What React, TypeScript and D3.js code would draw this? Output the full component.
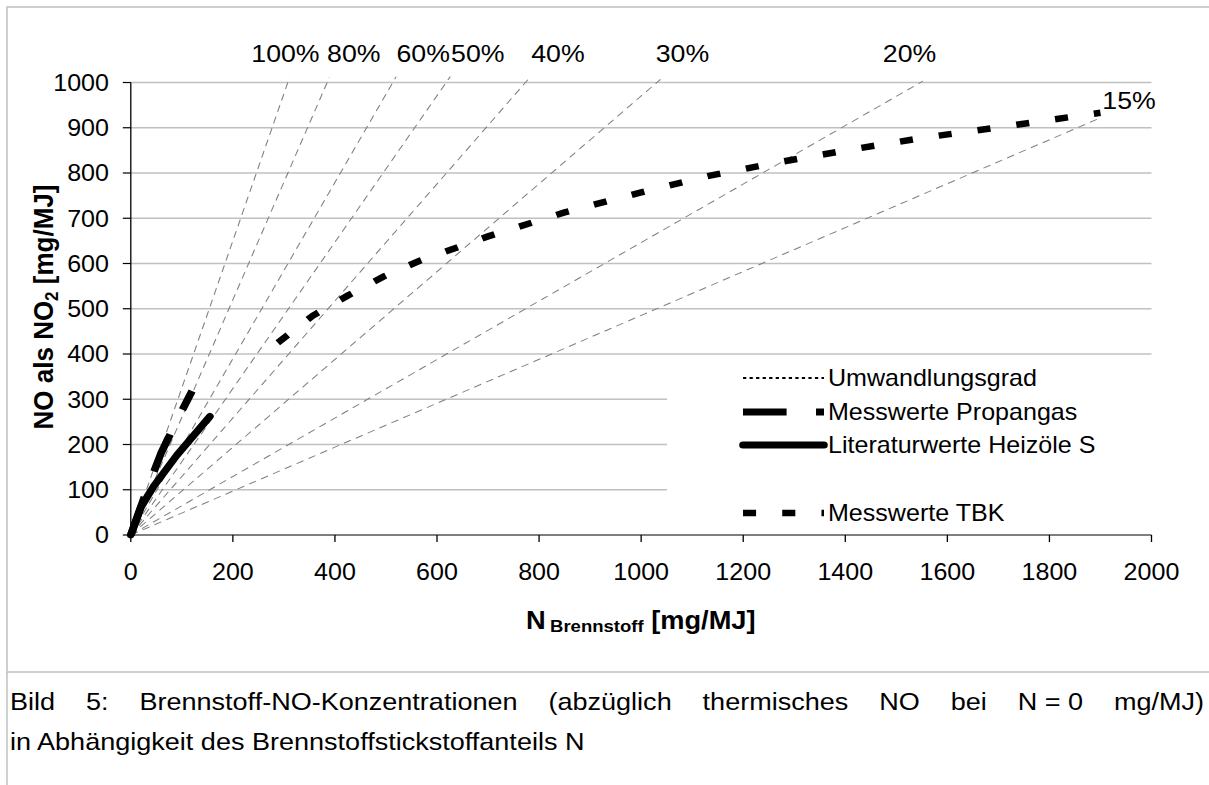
import { useEffect, useRef } from "react";
import * as d3 from "d3";

const W = 1209;
const H = 785;
// the reference picture is a little wider than it is tall, so the chart is stretched in x
const SX = 1.09;
const sx = (px: number) => px / SX;
const FONT = "Arial, 'Liberation Sans', sans-serif";

const PLOT = { left: 130.8, right: 1151.5, top: 82.5, bottom: 535 };

const xTicks = [0, 200, 400, 600, 800, 1000, 1200, 1400, 1600, 1800, 2000];
const yTicks = [0, 100, 200, 300, 400, 500, 600, 700, 800, 900, 1000];

// Umwandlungsgrad: reference lines from the origin
const umwLabels = ["100%", "80%", "60%", "50%", "40%", "30%", "20%", "15%"];
const umwEndN = [311, 389, 520, 626, 781, 1038, 1552, 1896];
const umwEndY = [1011, 1011, 1013, 1013, 1010, 1007, 1003, 920];
const umwLabelN = [303, 437, 573, 680, 837, 1081, 1526, 1956];
const umwLabelY = [1046, 1046, 1046, 1046, 1046, 1046, 1046, 941];

// Messwerte Propangas
const propanN = [0, 30, 60, 90, 120];
const propanY = [0, 95, 183, 252, 318];

// Literaturwerte Heizöle S
const heizN = [0, 20, 45, 90, 155];
const heizY = [0, 62, 108, 176, 262];

// Messwerte TBK
const tbkN = [288, 357, 425, 495, 566, 700, 850, 1000, 1130, 1271, 1412, 1554, 1695, 1836, 1900];
const tbkY = [425, 485, 529, 571, 606, 660, 713, 757, 793, 824, 852, 878, 900, 923, 933];

const legendLabels = ["Umwandlungsgrad", "Messwerte Propangas", "Literaturwerte Heizöle S", "Messwerte TBK"];
const legendRows = [378, 412, 445, 513];

const captionLine1 = "Bild 5: Brennstoff-NO-Konzentrationen (abzüglich thermisches NO bei N\u00a0=\u00a00 mg/MJ)";
const captionLine2 = "in Abhängigkeit des Brennstoffstickstoffanteils N";

const zip = (a: number[], b: number[]) => a.map((v, i) => [v, b[i]] as [number, number]);

export default function App() {
  const captionRef = useRef<SVGGElement>(null);

  const x = d3.scaleLinear().domain([0, 2000]).range([sx(PLOT.left), sx(PLOT.right)]);
  const y = d3.scaleLinear().domain([0, 1000]).range([PLOT.bottom, PLOT.top]);
  const line = d3
    .line<[number, number]>()
    .x((d) => x(d[0]))
    .y((d) => y(d[1]));

  useEffect(() => {
    // justify the first caption line word by word
    const g = d3.select(captionRef.current);
    g.selectAll("*").remove();
    const words = captionLine1.split(" ");
    const nodes = words.map((w) =>
      g
        .append("text")
        .attr("y", 710)
        .attr("font-size", 24.8)
        .attr("font-family", FONT)
        .attr("fill", "#000")
        .text(w)
    );
    const widths = nodes.map((n) => (n.node() as SVGTextElement).getComputedTextLength());
    const x0 = sx(10);
    const x1 = sx(1204);
    const gap = (x1 - x0 - d3.sum(widths)) / (words.length - 1);
    let cx = x0;
    nodes.forEach((n, i) => {
      n.attr("x", cx);
      cx += widths[i] + gap;
    });
    g.append("text")
      .attr("x", x0)
      .attr("y", 750)
      .attr("font-size", 24.8)
      .attr("font-family", FONT)
      .attr("fill", "#000")
      .text(captionLine2);
  }, []);

  const gridColor = "#c0c0c0";
  const legX0 = sx(743);
  const legX1 = sx(824);

  return (
    <svg width={W} height={H} style={{ position: "absolute", left: 0, top: 0, background: "#fff" }}>
      <rect x={7} y={7} width={W + 10} height={665} fill="#fff" stroke={gridColor} strokeWidth={1.5} />
      <line x1={7} x2={7} y1={672} y2={H} stroke={gridColor} strokeWidth={1.5} />

      <g transform={`scale(${SX},1)`} fontFamily={FONT}>
        {/* gridlines, the lower ones stop at the legend */}
        {yTicks.slice(1).map((t) => (
          <line
            key={t}
            x1={x(0)}
            x2={t <= 300 ? sx(667) : x(2000)}
            y1={y(t)}
            y2={y(t)}
            stroke={gridColor}
            strokeWidth={1.5}
          />
        ))}

        {umwEndN.map((n, i) => (
          <path
            key={umwLabels[i]}
            d={line([[0, 0], [n, umwEndY[i]]]) ?? ""}
            fill="none"
            stroke="#808080"
            strokeWidth={1}
            strokeDasharray="7,5"
          />
        ))}
        {umwLabels.map((l, i) => (
          <text key={l} x={x(umwLabelN[i])} y={y(umwLabelY[i])} textAnchor="middle" fontSize={24.5} fill="#000">
            {l}
          </text>
        ))}

        <path d={line(zip(tbkN, tbkY)) ?? ""} fill="none" stroke="#000" strokeWidth={6.5} strokeDasharray="12,24" />
        <path d={line(zip(heizN, heizY)) ?? ""} fill="none" stroke="#000" strokeWidth={7} strokeLinecap="round" strokeLinejoin="round" />
        <path d={line(zip(propanN, propanY)) ?? ""} fill="none" stroke="#000" strokeWidth={7} strokeDasharray="40,27" />

        {/* axes */}
        <line x1={x(0)} x2={x(2000)} y1={y(0)} y2={y(0)} stroke="#000" strokeWidth={1.2} />
        <line x1={x(0)} x2={x(0)} y1={y(0)} y2={y(1000)} stroke="#000" strokeWidth={1.2} />
        {xTicks.map((t) => (
          <g key={t}>
            <line x1={x(t)} x2={x(t)} y1={y(0)} y2={y(0) + 7} stroke="#000" strokeWidth={1.2} />
            <text x={x(t)} y={580} textAnchor="middle" fontSize={23} fill="#000">
              {t}
            </text>
          </g>
        ))}
        {yTicks.map((t) => (
          <g key={t}>
            <line x1={x(0) - sx(8)} x2={x(0)} y1={y(t)} y2={y(t)} stroke="#000" strokeWidth={1.2} />
            <text x={sx(109)} y={y(t)} dy="0.36em" textAnchor="end" fontSize={23} fill="#000">
              {t}
            </text>
          </g>
        ))}

        <text x={sx(526)} y={629} fontSize={25} fontWeight="bold" fill="#000">
          N
          <tspan fontSize={17} dy={3} dx={4}>
            Brennstoff
          </tspan>
          <tspan dy={-3}> [mg/MJ]</tspan>
        </text>
        <text
          transform={`translate(${sx(53)},307) rotate(-90)`}
          textAnchor="middle"
          fontSize={26}
          fontWeight="bold"
          fill="#000"
        >
          NO als NO
          <tspan fontSize={17} dy={5}>
            2
          </tspan>
          <tspan dy={-5}> [mg/MJ]</tspan>
        </text>

        {/* legend */}
        <line x1={legX0} x2={legX1} y1={legendRows[0]} y2={legendRows[0]} stroke="#000" strokeWidth={2} strokeDasharray="3,3" />
        <line x1={legX0} x2={legX1} y1={legendRows[1]} y2={legendRows[1]} stroke="#000" strokeWidth={7} strokeDasharray="40,27" />
        <line x1={legX0} x2={legX1} y1={legendRows[2]} y2={legendRows[2]} stroke="#000" strokeWidth={7} strokeLinecap="round" />
        <line x1={legX0} x2={legX1} y1={legendRows[3]} y2={legendRows[3]} stroke="#000" strokeWidth={6.5} strokeDasharray="12,24" />
        {legendLabels.map((l, i) => (
          <text key={l} x={sx(828)} y={legendRows[i]} dy="0.36em" fontSize={23} fill="#000">
            {l}
          </text>
        ))}

        <g ref={captionRef} />
      </g>
    </svg>
  );
}
